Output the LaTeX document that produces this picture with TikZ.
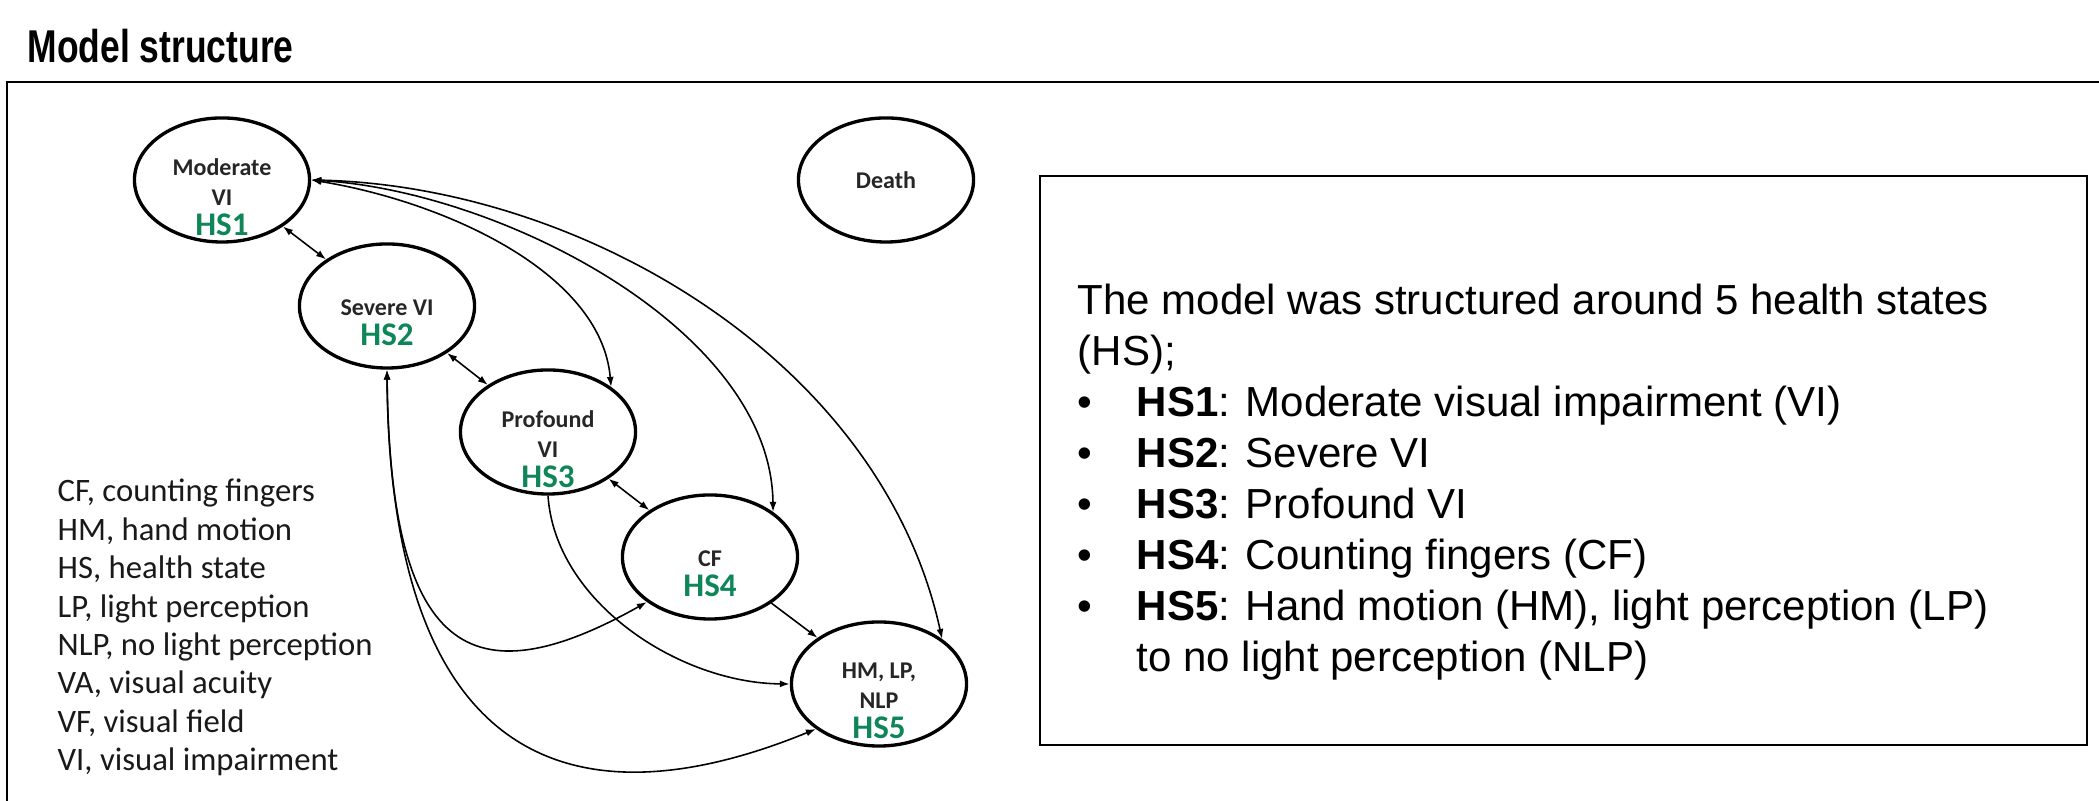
\documentclass[tikz,border=0pt]{standalone}
\usepackage{fontspec}
\usepackage{graphicx}
\setmainfont{Liberation Sans}
\newfontfamily\calibri{Carlito}
\usetikzlibrary{arrows.meta,shapes.geometric}

\definecolor{hsgreen}{RGB}{14,134,88}
\newcommand{\hsnum}[1]{{\fontsize{9.39}{9.39}\selectfont\color{hsgreen}#1}}

\begin{document}
\begin{tikzpicture}[
        x=0.01cm, y=0.01cm,
        state/.style={ellipse, draw, line width=0.95pt, minimum width=1.75cm,
            minimum height=1.24cm, inner sep=0pt},
        statetext/.style={align=center, inner sep=0pt, yshift=-0.17cm, text=black!85,
            font=\calibri\bfseries\fontsize{6.83}{8.5}\selectfont},
        link/.style={line width=0.45pt,
            {Latex[length=0.1cm,width=0.07cm]}-{Latex[length=0.1cm,width=0.07cm]}},
        oneway/.style={line width=0.45pt, -{Latex[length=0.1cm,width=0.07cm]}},
        boxtext/.style={anchor=base west, inner sep=0pt, font=\fontsize{11.95}{14}\selectfont},
        legend/.style={anchor=base west, inner sep=0pt, text=black!90,
            font=\calibri\fontsize{9.3}{11}\selectfont}
    ]

    \useasboundingbox (0,0) rectangle (2099,801);

    % title and frame
    \node[anchor=base west, inner sep=0pt, font=\bfseries\fontsize{13.09}{15}\selectfont]
        (title) at (27,738) {\scalebox{0.77}[1]{Model structure}};
    \draw[line width=0.63pt] (7,0) |- (2099,719);

    % health states
    \node[state] (hs1) at (222,621) {};
    \node[state] (hs2) at (387,495) {};
    \node[state] (hs3) at (548,369) {};
    \node[state] (hs4) at (710,244) {};
    \node[state] (hs5) at (879,117) {};
    \node[state, text=black!85, font=\calibri\bfseries\fontsize{6.83}{8.5}\selectfont]
        (death) at (886,621) {Death};

    \node[statetext] (hs1t) at (hs1) {Moderate\\VI\\\hsnum{HS1}};
    \node[statetext] (hs2t) at (hs2) {Severe VI\\\hsnum{HS2}};
    \node[statetext] (hs3t) at (hs3) {Profound\\VI\\\hsnum{HS3}};
    \node[statetext] (hs4t) at (hs4) {CF\\\hsnum{HS4}};
    \node[statetext] (hs5t) at (hs5) {HM, LP,\\NLP\\\hsnum{HS5}};

    % transitions
    \draw[link] (hs1) -- (hs2);
    \draw[link] (hs2) -- (hs3);
    \draw[link] (hs3) -- (hs4);
    \draw[oneway] (hs4) -- (hs5);

    \draw[link] (hs1.east) .. controls +(130,-21) and +(-10,116) .. (hs3.north east);
    \draw[link] (hs1.east) .. controls +(190,-11) and +(-2,182) .. (hs4.north east);
    \draw[link] (hs1.east) .. controls +(270,-6) and +(-61,279) .. (hs5.north east);

    \draw[link] (hs2.south) .. controls +(3,-282) and +(-178,-100) .. (hs4.south west);
    \draw[link] (hs2.south) .. controls +(3,-402) and +(-237,-97) .. (hs5.south west);
    \draw[oneway] (hs3.south) .. controls +(7,-106) and +(-111,1) .. (hs5.west);

    % abbreviations
    \foreach \ab [count=\i from 0] in {{CF, counting fingers}, {HM, hand motion},
        {HS, health state}, {LP, light perception}, {NLP, no light perception},
        {VA, visual acuity}, {VF, visual field}, {VI, visual impairment}}
        \node[legend] (abbr\i) at (57,299-38.4*\i) {\ab};

    % description box
    \coordinate (boxsw) at (1040,56);
    \coordinate (boxne) at (2087,625);
    \draw[line width=0.6pt] (boxsw) rectangle (boxne);

    \node[boxtext] (intro1) at (1077,486) {The model was structured around 5 health states};
    \node[boxtext] (intro2) at (1077,435.5) {(HS);};
    \foreach \txt [count=\i] in {Moderate visual impairment (VI), Severe VI, Profound VI,
        Counting fingers (CF), {Hand motion (HM), light perception (LP)}} {
        \node[boxtext] (dot\i) at (1077,435.5-51*\i) {\textbullet};
        \node[boxtext] (item\i) at (1136,435.5-51*\i) {\textbf{HS\i}: \txt};
    }
    \node[boxtext] (item5b) at (1136,129.5) {to no light perception (NLP)};
\end{tikzpicture}
\end{document}
